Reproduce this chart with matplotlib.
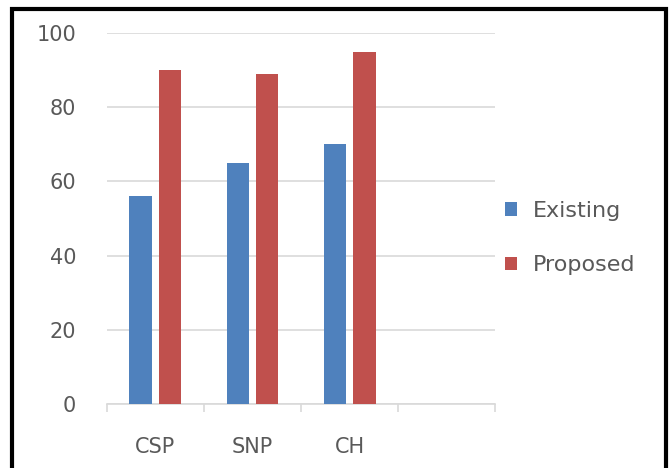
import matplotlib.pyplot as plt
import numpy as np
from matplotlib.patches import Rectangle

# dados do grafico
categorias = ['CSP', 'SNP', 'CH', '']
existing = [56, 65, 70, np.nan]
proposed = [90, 89, 95, np.nan]

plt.rcParams['font.family'] = ['DejaVu Sans']
cinza = '#595959'

fig = plt.figure(figsize=(6.72, 4.68), dpi=100)
ax = fig.add_axes([0.159, 0.1368, 0.578, 0.7927])

x = np.arange(len(categorias))
larg = 0.235
ax.bar(x - 0.15, existing, larg, color='#4F81BD', label='Existing', zorder=3)
ax.bar(x + 0.15, proposed, larg, color='#C0504D', label='Proposed', zorder=3)

ax.set_xlim(-0.5, len(categorias) - 0.5)
ax.set_ylim(0, 100)
ax.set_yticks(range(0, 101, 20))
ax.yaxis.grid(True, color='#D9D9D9', linewidth=1.2, zorder=0)
ax.tick_params(axis='y', length=0, pad=22, labelsize=15, labelcolor=cinza)

# marcas entre as categorias
ax.set_xticks(x)
ax.set_xticklabels(categorias)
ax.set_xticks(np.arange(-0.5, len(categorias)), minor=True)
ax.tick_params(axis='x', which='major', length=0, pad=24, labelsize=15, labelcolor=cinza)
ax.tick_params(axis='x', which='minor', length=6, color='#D9D9D9', width=1.2)

for lado in ['top', 'right', 'left']:
    ax.spines[lado].set_visible(False)
ax.spines['bottom'].set_color('#D9D9D9')
ax.spines['bottom'].set_linewidth(1.2)

leg = fig.legend(loc='center left', bbox_to_anchor=(505 / 672, 1 - 238 / 468), frameon=False,
                 fontsize=16, labelcolor=cinza, handlelength=0.55, handleheight=0.55,
                 handletextpad=0.7, labelspacing=1.55, borderpad=0, borderaxespad=0)

# moldura preta
fig.patches.append(Rectangle((12 / 672, -0.1), (666 - 12) / 672, 1.1 - 9 / 468,
                             transform=fig.transFigure, fill=False,
                             edgecolor='black', linewidth=3))

fig.savefig('out.png', dpi=100)
